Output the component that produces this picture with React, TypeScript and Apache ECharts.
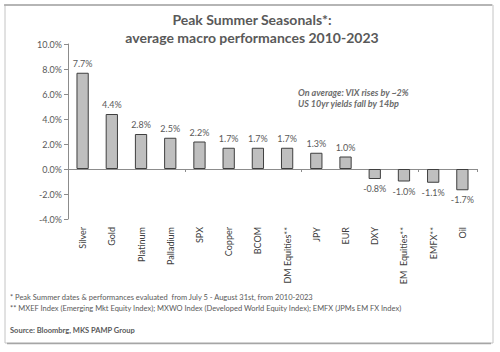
import React, { useEffect, useRef } from "react";
import * as echarts from "echarts";

const categories = [
  "Silver", "Gold", "Platinum", "Palladium", "SPX", "Copper", "BCOM",
  "DM Equities**", "JPY", "EUR", "DXY", "EM  Equities**", "EMFX**", "Oil",
];
const values = [7.7, 4.4, 2.8, 2.5, 2.2, 1.7, 1.7, 1.7, 1.3, 1.0, -0.8, -1.0, -1.1, -1.7];
const yMin = -4;
const yMax = 10;
const yStep = 2;
const titleLines = ["Peak Summer Seasonals*:", "average macro performances 2010-2023"];
const noteLines = ["On average: VIX rises by ~2%", "US 10yr yields fall by 14bp"];
const footnotes = [
  "* Peak Summer dates & performances evaluated  from July 5 - August 31st, from 2010-2023",
  "** MXEF Index (Emerging Mkt Equity Index); MXWO Index (Developed World Equity Index); EMFX (JPMs EM FX Index)",
];
const source = "Source: Bloombrg, MKS PAMP Group";

const FONT = "Lato, 'Open Sans', sans-serif";

export default function App() {
  const ref = useRef<HTMLDivElement>(null);
  useEffect(() => {
    if (!ref.current) return;
    const chart = echarts.init(ref.current, null, { renderer: "svg" });
    const axisGray = "#8c8c8c";
    const textGray = "#595959";
    chart.setOption({
      animation: false,
      backgroundColor: "#ffffff",
      textStyle: { fontFamily: FONT },
      grid: { left: 68, right: 23, top: 44, bottom: 133, containLabel: false },
      xAxis: [
        {
          type: "category",
          data: categories,
          position: "bottom",
          boundaryGap: true,
          axisLine: { show: true, onZero: true, lineStyle: { color: axisGray, width: 1 } },
          axisTick: { show: true, inside: false, length: 3, alignWithLabel: false, lineStyle: { color: axisGray } },
          axisLabel: { show: false },
          splitLine: { show: false },
        },
        {
          type: "category",
          data: categories,
          position: "bottom",
          boundaryGap: true,
          axisLine: { show: false, onZero: false },
          axisTick: { show: false },
          axisLabel: {
            show: true,
            rotate: 90,
            margin: 8,
            interval: 0,
            fontSize: 9,
            color: "#404040",
            fontFamily: FONT,
          },
          splitLine: { show: false },
        },
      ],
      yAxis: {
        type: "value",
        min: yMin,
        max: yMax,
        interval: yStep,
        axisLine: { show: true, lineStyle: { color: axisGray, width: 1 } },
        axisTick: { show: true, length: 4, lineStyle: { color: axisGray } },
        axisLabel: {
          formatter: (v: number) => `${v.toFixed(1)}%`,
          fontSize: 9,
          color: textGray,
          margin: 6,
          fontFamily: FONT,
        },
        splitLine: { show: false },
      },
      series: [
        {
          type: "bar",
          xAxisIndex: 0,
          barWidth: "42%",
          data: values.map((v) => ({
            value: v,
            label: { position: v >= 0 ? "top" : "bottom" },
          })),
          itemStyle: { color: "#bfbfbf", borderColor: "#3f3f3f", borderWidth: 1 },
          label: {
            show: true,
            distance: 5,
            fontSize: 9,
            color: textGray,
            fontFamily: FONT,
            formatter: (p: any) => `${Number(p.value).toFixed(1)}%`,
          },
        },
      ],
      graphic: [
        {
          type: "rect",
          shape: { x: 5, y: 5, width: 488, height: 338 },
          style: { fill: "none", stroke: "#c4c4c4", lineWidth: 1 },
          silent: true,
        },
        {
          type: "line",
          shape: { x1: 4, y1: 5, x2: 492, y2: 5 },
          style: { stroke: "#a6a6a6", lineWidth: 1.5 },
          silent: true,
        },
        {
          type: "line",
          shape: { x1: 7, y1: 343.5, x2: 491, y2: 343.5 },
          style: { stroke: "#a6a6a6", lineWidth: 1.5 },
          silent: true,
        },
        ...titleLines.map((t, i) => ({
          type: "text",
          x: 252,
          y: 19 + i * 18,
          style: {
            text: t,
            fontFamily: FONT,
            fontSize: 14,
            fontWeight: "bold",
            fill: textGray,
            textAlign: "center",
            textVerticalAlign: "middle",
          },
        })),
        ...noteLines.map((t, i) => ({
          type: "text",
          x: 298,
          y: 92 + i * 11,
          style: {
            text: t,
            fontFamily: FONT,
            fontSize: 9,
            fontStyle: "italic",
            fontWeight: "bold",
            fill: "#6b6b6b",
            textAlign: "left",
            textVerticalAlign: "middle",
          },
        })),
        ...footnotes.map((t, i) => ({
          type: "text",
          x: 10,
          y: 297 + i * 11,
          style: {
            text: t,
            fontFamily: FONT,
            fontSize: 7.5,
            fill: textGray,
            textAlign: "left",
            textVerticalAlign: "middle",
          },
        })),
        {
          type: "text",
          x: 10,
          y: 330,
          style: {
            text: source,
            fontFamily: FONT,
            fontSize: 7.5,
            fontWeight: "bold",
            fill: textGray,
            textAlign: "left",
            textVerticalAlign: "middle",
          },
        },
      ],
    });
    return () => chart.dispose();
  }, []);
  return (
    <div
      ref={ref}
      style={{ position: "absolute", left: 0, top: 0, width: 500, height: 352 }}
    />
  );
}
